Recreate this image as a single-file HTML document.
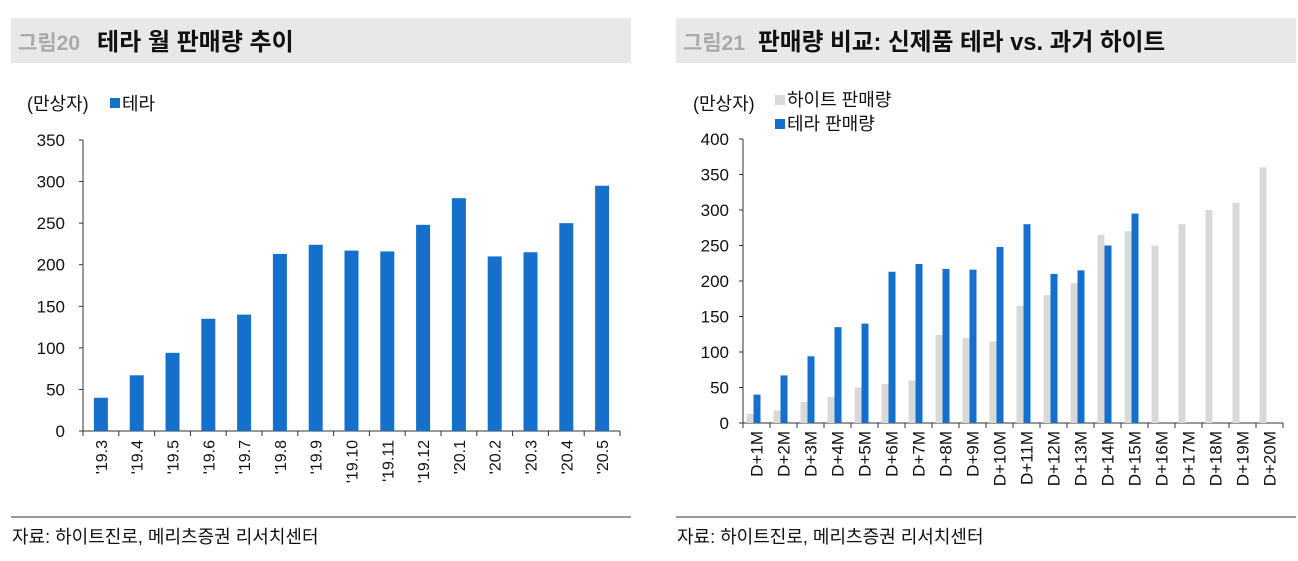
<!DOCTYPE html>
<html><head><meta charset="utf-8">
<style>
body{margin:0;background:#fff;width:1298px;height:561px;overflow:hidden;font-family:"Liberation Sans","Noto Sans CJK KR",sans-serif;}
svg{position:absolute;left:0;top:0}
</style></head>
<body>
<svg id="s" width="1298" height="561" font-family="Liberation Sans, Noto Sans CJK KR, sans-serif">
<rect x="11" y="18" width="620" height="45" fill="#e8e8e8"/>
<text x="18" y="50" font-size="21" font-weight="bold" fill="#aaa">그림20</text>
<text x="97" y="50" font-size="24" font-weight="bold" fill="#111">테라 월 판매량 추이</text>
<rect x="676" y="18" width="620" height="45" fill="#e8e8e8"/>
<text x="683" y="50" font-size="21" font-weight="bold" fill="#aaa">그림21</text>
<text x="758" y="50" font-size="23.7" font-weight="bold" fill="#111">판매량 비교: 신제품 테라 vs. 과거 하이트</text>
<text x="27" y="110" font-size="18" fill="#111">(만상자)</text>
<rect x="110" y="98" width="10" height="10" fill="#1570cc"/>
<text x="122" y="110" font-size="18" fill="#111">테라</text>
<text x="693" y="110" font-size="18" fill="#111">(만상자)</text>
<rect x="775" y="95" width="10" height="10" fill="#d9d9d9"/>
<text x="787" y="106" font-size="18" fill="#111">하이트 판매량</text>
<rect x="775" y="119" width="10" height="10" fill="#1570cc"/>
<text x="787" y="130" font-size="18" fill="#111">테라 판매량</text>
<line x1="11" y1="517" x2="631" y2="517" stroke="#333"/>
<line x1="676" y1="517" x2="1296" y2="517" stroke="#333"/>
<text x="12" y="543" font-size="18" fill="#111">자료:  하이트진로, 메리츠증권 리서치센터</text>
<text x="677" y="543" font-size="18" fill="#111">자료:  하이트진로, 메리츠증권 리서치센터</text>
</svg>
<script>
const leftCats=["'19.3","'19.4","'19.5","'19.6","'19.7","'19.8","'19.9","'19.10","'19.11","'19.12","'20.1","'20.2","'20.3","'20.4","'20.5"];
const teraVals=[40,67,94,135,140,213,224,217,216,248,280,210,215,250,295];
const leftTicks=[0,50,100,150,200,250,300,350];
const rightCats=["D+1M","D+2M","D+3M","D+4M","D+5M","D+6M","D+7M","D+8M","D+9M","D+10M","D+11M","D+12M","D+13M","D+14M","D+15M","D+16M","D+17M","D+18M","D+19M","D+20M"];
const hiteVals=[13,18,30,37,50,55,60,124,120,115,165,180,197,265,270,250,280,300,310,360];
const teraRight=[40,67,94,135,140,213,224,217,216,248,280,210,215,250,295];
const rightTicks=[0,50,100,150,200,250,300,350,400];

const s=document.getElementById('s');const NS='http://www.w3.org/2000/svg';
function mk(t,a,txt){const e=document.createElementNS(NS,t);for(const k in a)e.setAttribute(k,a[k]);if(txt!=null)e.textContent=txt;s.appendChild(e);return e;}

const L={x0:83,x1:620,y0:431,y1:140,max:350};
const ly=v=>L.y0-(v/L.max)*(L.y0-L.y1);
const lw=(L.x1-L.x0)/leftCats.length;
const lx=i=>L.x0+lw*(i+0.5);
let e=mk('line',{x1:L.x0,y1:L.y1,x2:L.x0,y2:L.y0,stroke:'#333'});


e=mk('line',{x1:L.x0,y1:L.y0,x2:L.x1,y2:L.y0,stroke:'#333'});


leftTicks.forEach(t=>{
 mk('line',{x1:L.x0-4,y1:ly(t),x2:L.x0,y2:ly(t),stroke:'#333'});
 e=mk('text',{x:L.x0-18,y:ly(t)+6,'font-size':17,'text-anchor':'end',fill:'#111'},t);
 
 
});
for(let i=0;i<=leftCats.length;i++)mk('line',{x1:L.x0+lw*i,y1:L.y0,x2:L.x0+lw*i,y2:L.y0+5,stroke:'#333'});
leftCats.forEach((c,i)=>{
 e=mk('rect',{x:lx(i)-7,y:ly(teraVals[i]),width:14,height:L.y0-ly(teraVals[i]),fill:'#1570cc'});
 
 
 e=mk('text',{x:0,y:0,'font-size':16,'text-anchor':'end',fill:'#111',transform:`translate(${lx(i)+6},${L.y0+9}) rotate(-90)`},c);
 
 
});

const R={x0:743,x1:1283,y0:423,y1:139,max:400};
const ry=v=>R.y0-(v/R.max)*(R.y0-R.y1);
const rw=(R.x1-R.x0)/rightCats.length;
const rx=i=>R.x0+rw*(i+0.5);
e=mk('line',{x1:R.x0,y1:R.y1,x2:R.x0,y2:R.y0,stroke:'#333'});


e=mk('line',{x1:R.x0,y1:R.y0,x2:R.x1,y2:R.y0,stroke:'#333'});


rightTicks.forEach(t=>{
 mk('line',{x1:R.x0-4,y1:ry(t),x2:R.x0,y2:ry(t),stroke:'#333'});
 e=mk('text',{x:R.x0-14,y:ry(t)+6,'font-size':17,'text-anchor':'end',fill:'#111'},t);
 
 
});
for(let i=0;i<=rightCats.length;i++)mk('line',{x1:R.x0+rw*i,y1:R.y0,x2:R.x0+rw*i,y2:R.y0+5,stroke:'#333'});
rightCats.forEach((c,i)=>{
 e=mk('rect',{x:rx(i)-10,y:ry(hiteVals[i]),width:7,height:R.y0-ry(hiteVals[i]),fill:'#d9d9d9'});
 
 
 if(i<teraRight.length){
  e=mk('rect',{x:rx(i)-3,y:ry(teraRight[i]),width:7,height:R.y0-ry(teraRight[i]),fill:'#1570cc'});
  
  
 }
 e=mk('text',{x:0,y:0,'font-size':17,'text-anchor':'end',fill:'#111',transform:`translate(${rx(i)+6},${R.y0+8}) rotate(-90)`},c);
 
 
});
</script>
</body></html>
